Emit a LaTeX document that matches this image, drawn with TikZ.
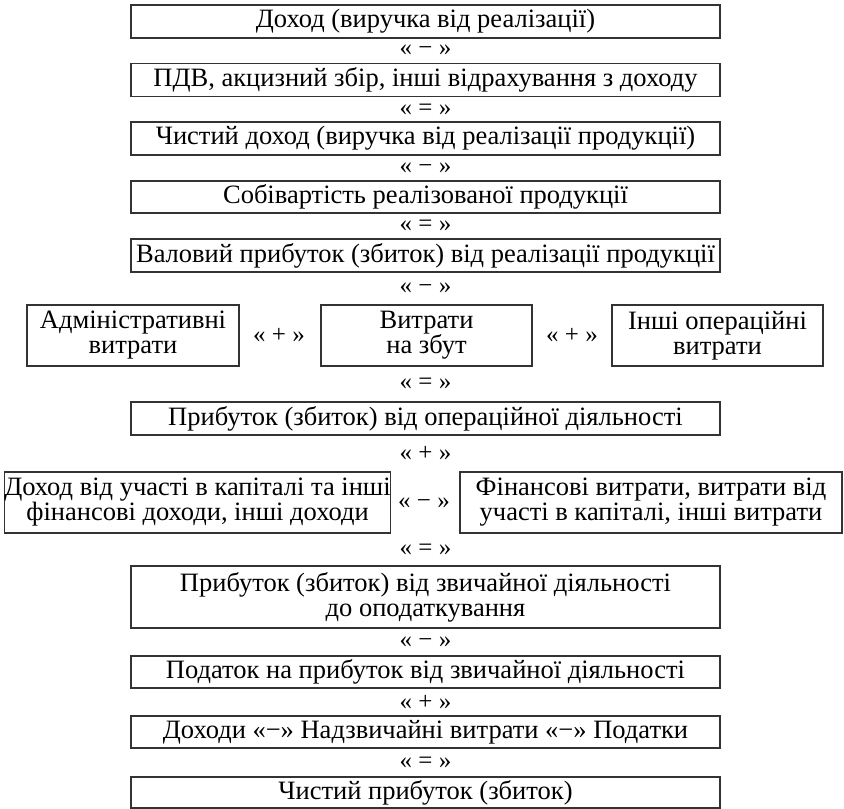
\documentclass[tikz,border=0pt]{standalone}
\usepackage{fontspec}
\setmainfont{Liberation Serif}
\usepackage{xcolor}
\usepackage{tikz}
\usetikzlibrary{positioning}
\definecolor{ramka}{HTML}{333333}

\begin{document}
\begin{tikzpicture}[x=1pt, y=-1pt, every node/.style={font=\fontsize{26.5}{25}\selectfont},
    blok/.style={draw=ramka, line width=1.2pt, inner sep=0pt, align=center, minimum height=33pt},
    shyrokyi/.style={blok, minimum width=589pt},
    znak/.style={inner sep=0pt, font=\fontsize{25}{25}\selectfont}]
        \useasboundingbox (0,0) rectangle (844,809);
        % main column
        \node[shyrokyi] (dokhid) at (425.5,21.5) {Доход (виручка від реалізації)};
        \node[shyrokyi] (pdv) at (425.5,80) {ПДВ, акцизний збір, інші відрахування з доходу};
        \node[shyrokyi] (chystyi) at (425.5,138.5) {Чистий доход (виручка від реалізації продукції)};
        \node[shyrokyi, minimum height=32pt] (sobivart) at (425.5,197) {Собівартість реалізованої продукції};
        \node[shyrokyi] (valovyi) at (425.5,255.5) {Валовий прибуток (збиток) від реалізації продукції};
        % operating expenses
        \node[blok, minimum width=212pt, minimum height=61pt] (admin) at (133,335.5) {Адміністративні\\витрати};
        \node[blok, minimum width=211pt, minimum height=61pt] (zbut) at (426.5,335.5) {Витрати\\на збут};
        \node[blok, minimum width=211pt, minimum height=61pt] (inshi) at (717.5,335.5) {Інші операційні\\витрати};
        \node[shyrokyi] (operac) at (425.5,418.5) {Прибуток (збиток) від операційної діяльності};
        % financial part
        \node[blok, minimum width=385pt, minimum height=61pt] (uchast) at (197.5,502.5) {Доход від участі в капіталі та інші\\фінансові доходи, інші доходи};
        \node[blok, minimum width=382pt, minimum height=61pt] (finvytr) at (651,502.5) {Фінансові витрати, витрати від\\участі в капіталі, інші витрати};
        \node[shyrokyi, minimum height=62pt] (zvych) at (425.5,597) {Прибуток (збиток) від звичайної діяльності\\до оподаткування};
        \node[shyrokyi, minimum height=32pt] (podatok) at (425.5,672) {Податок на прибуток від звичайної діяльності};
        \node[shyrokyi, minimum height=32pt] (nadzv) at (425.5,732) {Доходи «−» Надзвичайні витрати «−» Податки};
        \node[shyrokyi, minimum height=31pt] (chpryb) at (425.5,792.5) {Чистий прибуток (збиток)};
        % signs between the boxes
        \foreach \nm/\x/\y/\s in {z1/425.5/50.5/−, z2/425.5/109.5/=, z3/425.5/168/−, z4/425.5/226/=, z5/425.5/288.5/−,
            z6/279/335.5/+, z7/572/335.5/+, z8/425.5/384/=, z9/425.5/453.5/+, z10/424/503/−,
            z11/425.5/549.5/=, z12/425.5/642/−, z13/425.5/702/+, z14/425.5/762.5/=}{\node[znak] (\nm) at (\x,\y) {« \s\ »};}
      \end{tikzpicture}
\end{document}
